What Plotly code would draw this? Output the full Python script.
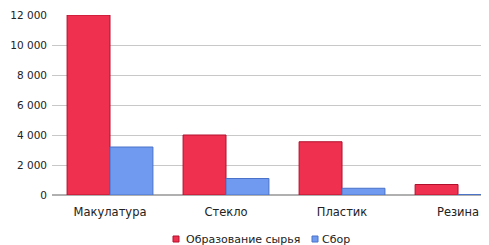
import plotly.graph_objects as go

categories = ["Макулатура", "Стекло", "Пластик", "Резина"]
formation = [12000, 4000, 3550, 700]
collection = [3200, 1100, 450, 30]
series_names = ["Образование сырья", "Сбор"]
y_ticks = [0, 2000, 4000, 6000, 8000, 10000, 12000]

red, red_line = "#F0304F", "#B0102C"
blue, blue_line = "#6F9AF0", "#4A72C8"

# page offset of the figure inside the html body (default body margin)
OFF = 8
W, H = 489, 245
L, T, B, R = 52 - OFF, 15 - OFF, H - (195 - OFF), W - (489 - OFF)
PW, PH = W - L - R, H - T - B


def px_x(x):  # page pixel -> paper x
    return (x - OFF - L) / PW


def px_y(y):  # page pixel -> paper y
    return (H - B - (y - OFF)) / PH


fig = go.Figure()
fig.add_trace(go.Bar(x=categories, y=formation, name=series_names[0], showlegend=False,
                     marker=dict(color=red, line=dict(color=red_line, width=1))))
fig.add_trace(go.Bar(x=categories, y=collection, name=series_names[1], showlegend=False,
                     marker=dict(color=blue, line=dict(color=blue_line, width=1))))

# custom legend (Excel-like compact layout)
legend_items = [(series_names[0], red, red_line, 173, 184),
                (series_names[1], blue, blue_line, 312, 320)]
for name, col, lcol, sq_x, tx in legend_items:
    fig.add_shape(type="rect", xref="paper", yref="paper",
                  x0=px_x(sq_x), x1=px_x(sq_x + 6), y0=px_y(242), y1=px_y(236),
                  fillcolor=col, line=dict(color=lcol, width=1))
    fig.add_annotation(text=name, xref="paper", yref="paper", x=px_x(tx), y=px_y(239),
                       xanchor="left", yanchor="middle", showarrow=False,
                       font=dict(size=11, color="#222"))

fig.update_layout(
    width=W, height=H,
    margin=dict(l=L, r=R, t=T, b=B, autoexpand=False),
    paper_bgcolor="white", plot_bgcolor="white",
    barmode="group", bargap=0.26, bargroupgap=0,
    separators=", ",
    font=dict(family="DejaVu Sans", size=11, color="#222"),
    showlegend=False,
    xaxis=dict(range=[-0.5, 3.267], showline=False, ticks="outside", ticklen=6,
               tickcolor="rgba(0,0,0,0)", showgrid=False, automargin=False,
               tickfont=dict(size=11.5)),
    yaxis=dict(range=[0, 12000], tickvals=y_ticks, tickformat=",d",
               showgrid=True, gridcolor="#C8C8C8", gridwidth=1,
               zeroline=True, zerolinecolor="#B0B0B0", showline=False,
               ticks="", ticklabelstandoff=4, automargin=False,
               tickfont=dict(size=10.5)),
)
fig.write_html("out.html")
